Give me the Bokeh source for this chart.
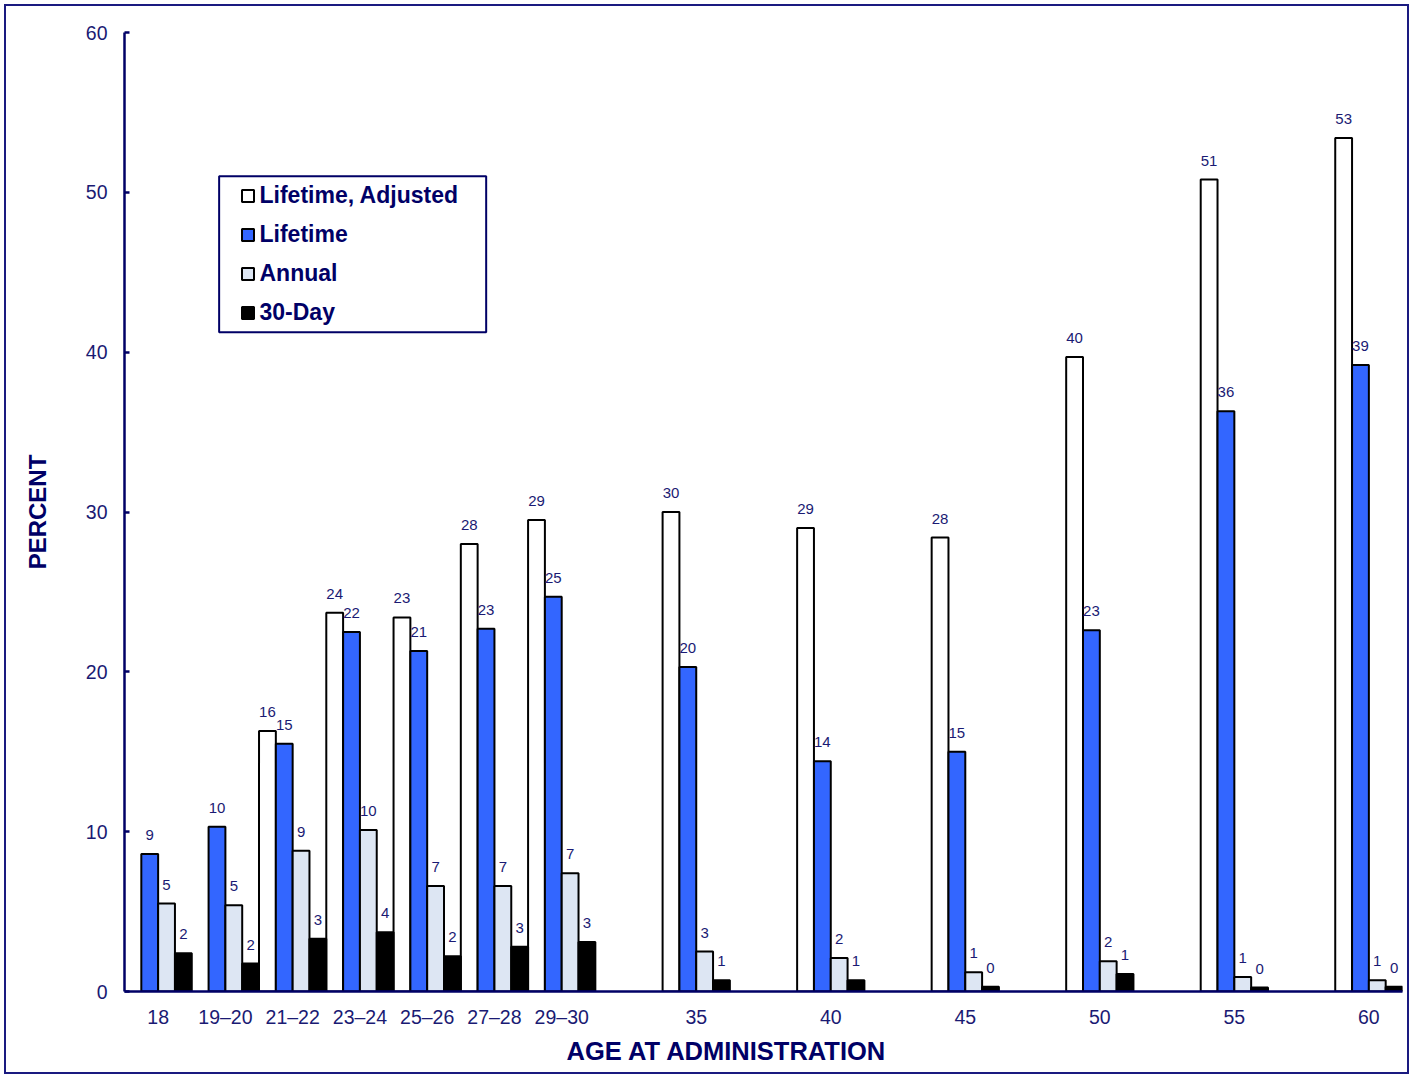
import numpy as np
import pandas as pd
from bokeh.plotting import figure
from bokeh.models import (ColumnDataSource, FixedTicker, Legend, LegendItem,
                          LabelSet, Title, BoxAnnotation)
from bokeh.core.properties import value
from bokeh.transform import dodge
from bokeh.embed import file_html
from bokeh.resources import INLINE

# ---- data ----
categories = ["18", "19\u201320", "21\u201322", "23\u201324", "25\u201326", "27\u201328",
              "29\u201330", "35", "40", "45", "50", "55", "60"]
positions = [0, 1, 2, 3, 4, 5, 6, 8, 10, 12, 14, 16, 18]

lifetime_adjusted = [np.nan, np.nan, 16.3, 23.7, 23.4, 28.0, 29.5, 30.0, 29.0, 28.4, 39.7, 50.8, 53.4]
lifetime_adjusted_labels = ["", "", "16", "24", "23", "28", "29", "30", "29", "28", "40", "51", "53"]

lifetime = [8.6, 10.3, 15.5, 22.5, 21.3, 22.7, 24.7, 20.3, 14.4, 15.0, 22.6, 36.3, 39.2]
lifetime_labels = ["9", "10", "15", "22", "21", "23", "25", "20", "14", "15", "23", "36", "39"]

annual = [5.5, 5.4, 8.8, 10.1, 6.6, 6.6, 7.4, 2.5, 2.1, 1.2, 1.9, 0.9, 0.7]
annual_labels = ["5", "5", "9", "10", "7", "7", "7", "3", "2", "1", "2", "1", "1"]

thirty_day = [2.4, 1.75, 3.3, 3.7, 2.2, 2.8, 3.1, 0.7, 0.7, 0.3, 1.1, 0.25, 0.3]
thirty_day_labels = ["2", "2", "3", "4", "2", "3", "3", "1", "1", "0", "1", "0", "0"]

y_ticks = [0, 10, 20, 30, 40, 50, 60]

NAVY = "#000066"
TEXT = "#1a1a73"
FONT = "Liberation Sans"

series = [
    ("Lifetime, Adjusted", lifetime_adjusted, lifetime_adjusted_labels, "#ffffff", -0.375),
    ("Lifetime", lifetime, lifetime_labels, "#3366ff", -0.125),
    ("Annual", annual, annual_labels, "#dde6f3", 0.125),
    ("30-Day", thirty_day, thirty_day_labels, "#000000", 0.375),
]

p = figure(width=1405, height=1070, x_range=(-0.5, 18.5), y_range=(0, 60),
           output_backend="svg", toolbar_location=None,
           min_border_left=118, min_border_right=9, min_border_top=26, min_border_bottom=85)
p.styles = {"border": "2px solid #1a1a80", "margin-left": "4px", "margin-top": "4px"}
p.outline_line_color = None
p.grid.visible = False
p.background_fill_color = "white"
p.border_fill_color = "white"

legend_items = []
for name, vals, labels, color, off in series:
    df = pd.DataFrame({"pos": positions, "val": vals, "lab": labels})
    df = df[~df["val"].isna()]
    src = ColumnDataSource(df)
    r = p.vbar(x=dodge("pos", off, range=p.x_range), top="val", width=0.25, bottom=0,
               source=src, fill_color=color, line_color="black", line_width=2)
    legend_items.append(LegendItem(label=name, renderers=[r]))
    ls = LabelSet(x=dodge("pos", off, range=p.x_range), y="val", text="lab", source=src,
                  text_align="center", text_baseline="alphabetic", y_offset=14,
                  text_font_size=value("15px"), text_color=value(TEXT),
                  text_font=value(FONT))
    p.add_layout(ls)

# axes
p.xaxis.ticker = FixedTicker(ticks=positions)
p.xaxis.major_label_overrides = {pos: lab for pos, lab in zip(positions, categories)}
p.xaxis.major_tick_line_color = None
p.xaxis.minor_tick_line_color = None
p.xaxis.axis_line_color = NAVY
p.xaxis.axis_line_width = 2.5
p.xaxis.major_label_text_font_size = "19.5px"
p.xaxis.major_label_text_color = TEXT
p.xaxis.major_label_text_font = FONT
p.xaxis.major_label_standoff = 8

p.yaxis.ticker = FixedTicker(ticks=y_ticks)
p.yaxis.major_tick_in = 5
p.yaxis.major_tick_out = 0
p.yaxis.major_tick_line_color = NAVY
p.yaxis.major_tick_line_width = 2.5
p.yaxis.minor_tick_line_color = None
p.yaxis.axis_line_color = NAVY
p.yaxis.axis_line_width = 2.5
p.yaxis.major_label_text_font_size = "19.5px"
p.yaxis.major_label_text_color = TEXT
p.yaxis.major_label_text_font = FONT
p.yaxis.major_label_standoff = 17
p.yaxis.axis_label = "PERCENT"
p.yaxis.axis_label_text_font_size = "24px"
p.yaxis.axis_label_text_font_style = "bold"
p.yaxis.axis_label_text_color = NAVY
p.yaxis.axis_label_text_font = FONT
p.yaxis.axis_label_standoff = 32

xtitle = Title(text="AGE AT ADMINISTRATION", align="left", offset=442, standoff=8,
               text_font_size="25.5px", text_font_style="bold", text_color=NAVY,
               text_font=FONT)
p.add_layout(xtitle, "below")

# legend
legend = Legend(items=legend_items, location=(115.5, 665), orientation="vertical",
                glyph_width=15, glyph_height=15, label_height=24, spacing=12, padding=8,
                label_standoff=5, label_text_font_size="23px", label_text_font_style="bold",
                label_text_color=NAVY, label_text_font=FONT,
                border_line_color=None, background_fill_alpha=0)
p.add_layout(legend, "center")

box = BoxAnnotation(left=0.907, right=4.877, top=51.0, bottom=41.24,
                    fill_alpha=0, line_color=NAVY, line_alpha=1.0, line_width=2)
p.add_layout(box)

open("out.html", "w").write(file_html(p, INLINE))
